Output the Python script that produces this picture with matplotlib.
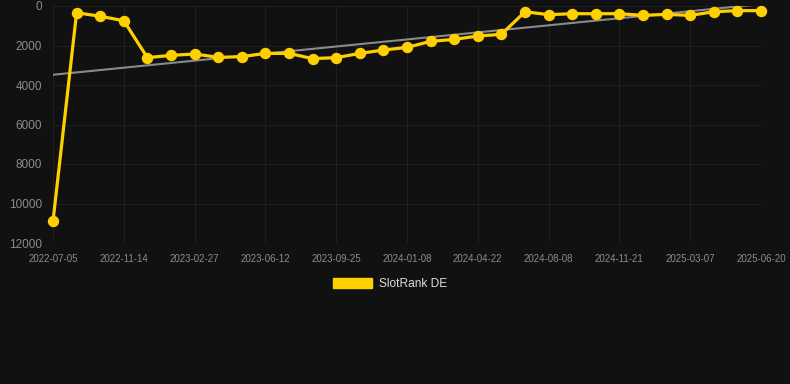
import numpy as np
import matplotlib.pyplot as plt
from matplotlib.patches import Patch

plt.rcParams['font.family'] = ['Liberation Sans', 'DejaVu Sans']

# rank per sample (lower is better), evenly spaced samples
rank = [10900, 340, 520, 745, 2615, 2500, 2430, 2600, 2565, 2400, 2400,
        2665, 2615, 2400, 2230, 2095, 1790, 1690, 1520, 1435, 290, 440,
        390, 390, 390, 475, 425, 475, 290, 235, 235]
tick_labels = ['2022-07-05', '2022-11-14', '2023-02-27', '2023-06-12',
               '2023-09-25', '2024-01-08', '2024-04-22', '2024-08-08',
               '2024-11-21', '2025-03-07', '2025-06-20']
y_ticks = [0, 2000, 4000, 6000, 8000, 10000, 12000]

BG = '#111111'
GOLD = '#FFD000'

fig = plt.figure(figsize=(7.9, 3.84), dpi=100, facecolor=BG)
ax = fig.add_axes([53/790, 1-243/384, 708/790, 237/384])
ax.set_facecolor(BG)

x = np.arange(len(rank))
k, b = np.polyfit(x, rank, 1)
ax.plot(x, k*x + b, color='#8a8a8a', lw=1.5, zorder=2)
ax.plot(x, rank, color=GOLD, lw=2.3, marker='o', ms=7.2, zorder=3, clip_on=False)

ax.set_xlim(0, len(rank) - 1)
ax.set_ylim(12000, 0)
ax.set_xticks(x[::3])
ax.set_xticklabels(tick_labels)
ax.set_yticks(y_ticks)
ax.tick_params(axis='x', colors='#8c8c8c', labelsize=7, length=0, pad=8)
ax.tick_params(axis='y', colors='#8c8c8c', labelsize=8.5, length=0, pad=8)
ax.grid(True, color='#1f1f1f', lw=0.8)
for s in ax.spines.values():
    s.set_visible(False)

handle = Patch(facecolor=GOLD, edgecolor=GOLD)
leg = fig.legend([handle], ['SlotRank DE'], loc='center',
                 bbox_to_anchor=(0.5 - 5/790, 1-284/384),
                 frameon=False, fontsize=8.6, handlelength=3.3, handleheight=1.0,
                 handletextpad=0.6)
for t in leg.get_texts():
    t.set_color('#dddddd')

fig.savefig('out.png', dpi=100, facecolor=BG)
